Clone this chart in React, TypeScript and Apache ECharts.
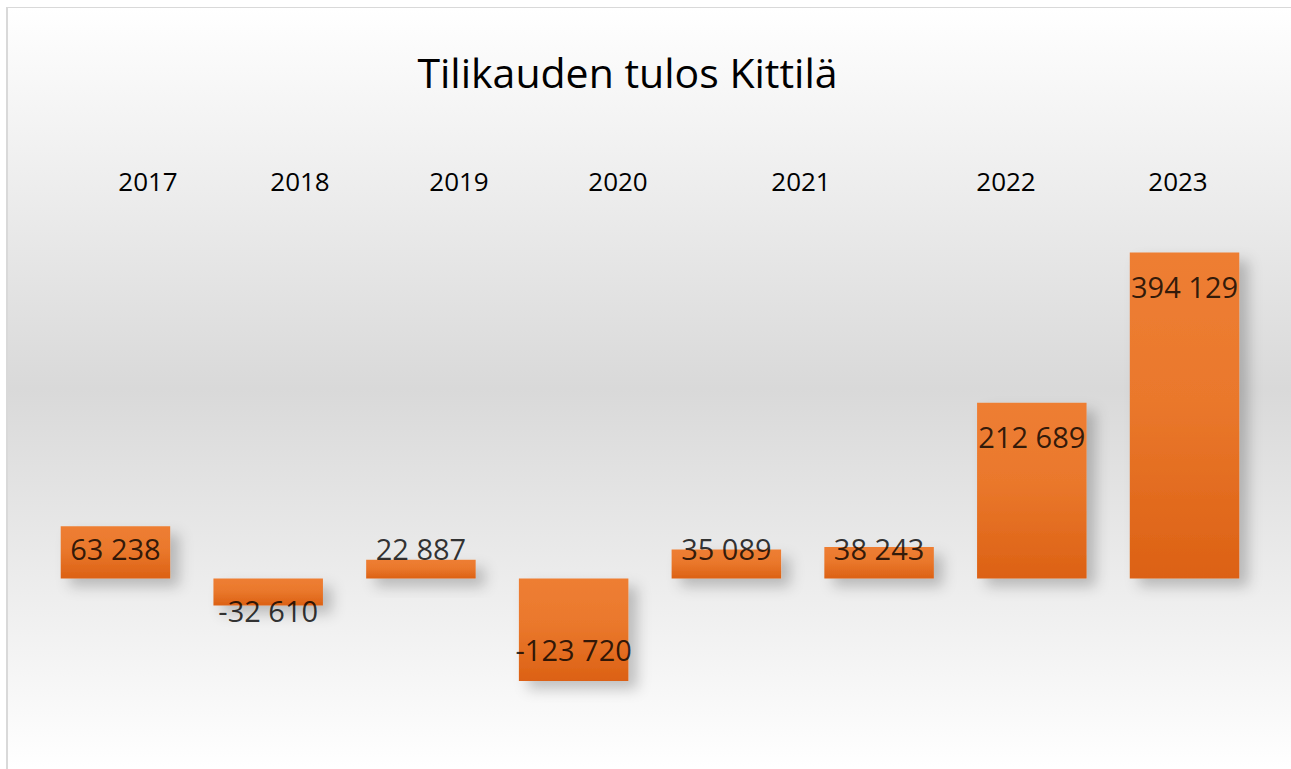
import React, { useEffect, useRef } from "react";
import * as echarts from "echarts";

// ---- data ----
const categories = ["2016", "2017", "2018", "2019", "2020", "2021", "2022", "2023"];
const results = [63238, -32610, 22887, -123720, 35089, 38243, 212689, 394129];
const yearLabels = ["2017", "2018", "2019", "2020", "2021", "2022", "2023"];
const titleText = "Tilikauden tulos Kittilä";

// ---- layout (separate from data) ----
const W = 1283;
const H = 761;
const yearLabelX = [140, 292, 451, 610, 793, 998, 1170];
const yearLabelY = 173;
const Y_MIN = -150000;
const Y_MAX = 400000;
const GRID = { left: 31.1, right: 30.1, top: 239.7, bottom: 66.3 };
const FONT = "'Open Sans', 'Noto Sans', sans-serif";

const fmt = (v: number) => {
  const s = String(Math.abs(v)).replace(/\B(?=(\d{3})+(?!\d))/g, " ");
  return (v < 0 ? "-" : "") + s;
};

export default function App() {
  const ref = useRef<HTMLDivElement>(null);

  useEffect(() => {
    if (!ref.current) return;
    const chart = echarts.init(ref.current, undefined, { renderer: "svg" });
    const gridH = H - GRID.top - GRID.bottom;
    const unitPerPx = (Y_MAX - Y_MIN) / gridH;
    // label centre positions (inside end, clamped near the zero line)
    const labelPos = results.map((v) =>
      v >= 0
        ? Math.max(v - 34 * unitPerPx, 30.5 * unitPerPx)
        : Math.min(v + 31 * unitPerPx, -31.5 * unitPerPx)
    );

    chart.setOption({
      animation: false,
      grid: { ...GRID },
      xAxis: {
        type: "category",
        data: categories,
        show: false,
      },
      yAxis: {
        type: "value",
        min: Y_MIN,
        max: Y_MAX,
        show: false,
        splitLine: { show: false },
      },
      graphic: [
        {
          type: "rect",
          z: -100,
          silent: true,
          shape: { x: 0, y: 0, width: W, height: H },
          style: {
            fill: new echarts.graphic.LinearGradient(0, 0, 0, 1, [
              { offset: 0, color: "#ffffff" },
              { offset: 0.5, color: "#d9d9d9" },
              { offset: 1, color: "#ffffff" },
            ]),
          },
        },
        {
          type: "text",
          x: 619.5,
          y: 64,
          style: {
            text: titleText,
            font: `41px ${FONT}`,
            fill: "#000000",
            textAlign: "center",
            textVerticalAlign: "middle",
          },
        },
        ...yearLabels.map((t, i) => ({
          type: "text",
          x: yearLabelX[i],
          y: yearLabelY,
          style: {
            text: t,
            font: `26px ${FONT}`,
            fill: "#000000",
            textAlign: "center",
            textVerticalAlign: "middle",
          },
        })),
      ],
      series: [
        {
          type: "bar",
          data: results,
          barWidth: 109.5,
          itemStyle: {
            color: new echarts.graphic.LinearGradient(0, 0, 0, 1, [
              { offset: 0, color: "#EE7E33" },
              { offset: 0.45, color: "#EA782C" },
              { offset: 1, color: "#DC6114" },
            ]),
            shadowColor: "rgba(0,0,0,0.22)",
            shadowBlur: 14,
            shadowOffsetX: 9,
            shadowOffsetY: 8,
          },
          label: { show: false },
          z: 2,
        },
        {
          type: "scatter",
          data: results.map((v, i) => [i, labelPos[i], v]),
          symbolSize: 1,
          itemStyle: { color: "rgba(0,0,0,0)" },
          label: {
            show: true,
            position: "inside",
            fontFamily: FONT,
            fontSize: 29,
            fontWeight: 500,
            color: "#000000",
            textBorderWidth: 0,
            formatter: (p: any) => fmt(p.value[2]),
          },
          z: 5,
        },
      ],
    });
    return () => chart.dispose();
  }, []);

  return (
    <div
      style={{
        position: "absolute",
        left: 6,
        top: 7,
        borderLeft: "2px solid #d9d9d9",
        borderTop: "1px solid #d9d9d9",
      }}
    >
      <div ref={ref} style={{ width: W, height: H }} />
    </div>
  );
}
